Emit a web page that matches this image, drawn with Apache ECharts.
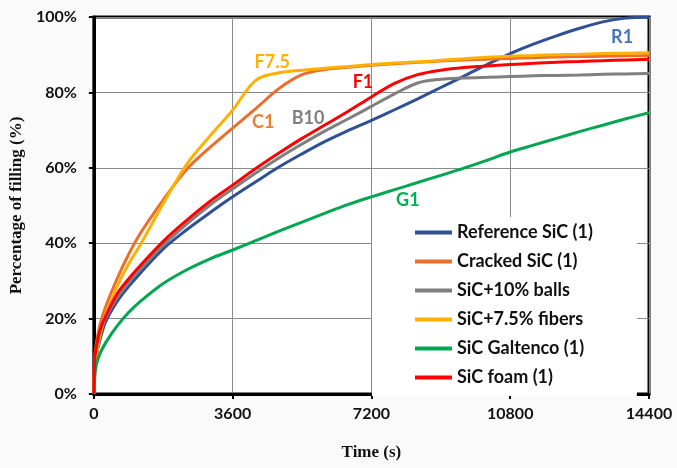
<!DOCTYPE html>
<html>
<head>
<meta charset="utf-8">
<script src="https://cdn.jsdelivr.net/npm/echarts@6/dist/echarts.min.js"></script>
<style>
  html, body { margin: 0; padding: 0; background: #fafafa; }
  #chart { width: 677px; height: 468px; }
</style>
</head>
<body>
<div id="chart"></div>
<script>
// Sampling times (s), shared by all curves
const times = [0, 20, 60, 150, 300, 600, 900, 1200, 1800, 2400, 3000, 3600, 4200, 4800, 5400, 6000, 6600, 7200, 7800, 8400, 9000, 9600, 10200, 10800, 11400, 12000, 12600, 13200, 13800, 14400];

// Percentage of filling (%) for each material
const referenceSiC = [0, 7, 10, 14, 19, 24.5, 28.5, 32, 38.5, 43.5, 48, 52.3, 56.3, 60.2, 63.7, 67.0, 69.9, 72.6, 75.4, 78.3, 81.3, 84.3, 87.4, 90.3, 92.8, 95, 97, 98.7, 99.7, 100];
const crackedSiC = [0, 9, 13, 18, 23, 30.5, 37, 42.5, 51.5, 59.5, 65.3, 70.5, 75.7, 81, 84.7, 86.1, 86.7, 87.2, 87.6, 88, 88.3, 88.6, 88.8, 89, 89.2, 89.4, 89.5, 89.6, 89.7, 89.8];
const sicBalls = [0, 8, 11, 15.5, 20, 25.5, 29.5, 33, 39.5, 45, 50, 54.4, 58.6, 62.6, 66.3, 69.8, 73, 76.3, 79.6, 82.5, 83.5, 83.8, 84, 84.2, 84.4, 84.5, 84.6, 84.8, 84.9, 85];
const sicFibers = [0, 7, 10, 15, 21, 28.5, 34.5, 39.5, 50.5, 60.8, 68.3, 75.3, 83.2, 85.2, 85.9, 86.4, 86.9, 87.4, 87.8, 88.1, 88.5, 88.9, 89.3, 89.6, 89.8, 90, 90.1, 90.3, 90.4, 90.5];
const sicGaltenco = [0, 4, 7.5, 10.5, 13.5, 18, 21.6, 24.5, 29.3, 32.9, 35.8, 38.2, 40.7, 43.2, 45.6, 48, 50.3, 52.3, 54.2, 56.1, 58, 59.9, 62, 64.2, 66, 67.8, 69.6, 71.3, 73, 74.6];
const sicFoam = [0, 9, 12, 16.5, 20.5, 26.5, 30.5, 34, 40.5, 46, 51, 55.4, 59.8, 63.9, 67.8, 71.4, 75, 78.8, 82.4, 84.7, 85.9, 86.6, 87, 87.4, 87.7, 88, 88.2, 88.4, 88.6, 88.8];

const seriesNames = ['Reference SiC (1)', 'Cracked SiC (1)', 'SiC+10% balls', 'SiC+7.5% fibers', 'SiC Galtenco (1)', 'SiC foam (1)'];
const seriesValues = [referenceSiC, crackedSiC, sicBalls, sicFibers, sicGaltenco, sicFoam];
const lineColors = ['#2F4F96', '#EB6E2C', '#7F7F7F', '#FFB000', '#00A650', '#FF0000'];

// Short tags written next to each curve (time, percentage)
const tagNames = ['R1', 'C1', 'B10', 'F7.5', 'G1', 'F1'];
const tagTimes = [13702, 4395, 5558, 4628, 8144, 6980];
const tagValues = [94.7, 72.1, 73.2, 88.1, 51.5, 82.8];
const tagColors = ['#4472C4', '#ED7D31', '#7F7F7F', '#FFB000', '#00B050', '#FF0000'];

// Axis ticks
const timeTicks = { min: 0, max: 14400, step: 3600 };
const percentTicks = { min: 0, max: 100, step: 20 };

const chart = echarts.init(document.getElementById('chart'), null, { renderer: 'canvas' });

const series = seriesNames.map((name, i) => ({
  name: name,
  type: 'line',
  data: times.map((t, k) => [t, seriesValues[i][k]]),
  smooth: 0.35,
  showSymbol: false,
  symbol: 'none',
  lineStyle: { color: lineColors[i], width: 3 },
  itemStyle: { color: lineColors[i] },
  z: 2 + i,
  markPoint: {
    symbol: 'circle',
    symbolSize: 0,
    silent: true,
    label: {
      show: true,
      position: 'inside',
      formatter: '{b}',
      color: tagColors[i],
      fontFamily: 'Lato',
      fontWeight: 'bold',
      fontSize: 18
    },
    data: [{ name: tagNames[i], coord: [tagTimes[i], tagValues[i]] }]
  }
}));

chart.setOption({
  backgroundColor: '#fafafa',
  animation: false,
  grid: {
    left: 92, right: 28, top: 17, bottom: 74,
    show: true,
    backgroundColor: '#ffffff',
    borderColor: '#000',
    borderWidth: 3
  },
  legend: {
    orient: 'vertical',
    left: 372,
    top: 217,
    padding: [5, 44, 8, 43],
    backgroundColor: '#ffffff',
    itemGap: 8,
    itemWidth: 37,
    itemHeight: 4,
    icon: 'rect',
    data: seriesNames,
    textStyle: {
      color: '#111',
      fontFamily: 'Lato',
      fontWeight: 'bold',
      fontSize: 18,
      lineHeight: 21
    }
  },
  xAxis: {
    type: 'value',
    min: timeTicks.min,
    max: timeTicks.max,
    interval: timeTicks.step,
    name: 'Time (s)',
    nameLocation: 'middle',
    nameGap: 50,
    nameTextStyle: {
      fontFamily: 'Liberation Serif',
      fontWeight: 'bold',
      fontSize: 17,
      color: '#111'
    },
    axisLine: { show: true, lineStyle: { color: '#000', width: 3 } },
    axisTick: { show: true, inside: false, length: 5, lineStyle: { color: '#000', width: 2 } },
    axisLabel: {
      margin: 12,
      color: '#111',
      fontFamily: 'Lato',
      fontWeight: 'bold',
      fontSize: 16,
      formatter: v => String(v)
    },
    splitLine: { show: true, lineStyle: { color: '#8a8a8a', width: 1 } }
  },
  yAxis: {
    type: 'value',
    min: percentTicks.min,
    max: percentTicks.max,
    interval: percentTicks.step,
    name: 'Percentage of filling (%)',
    nameLocation: 'middle',
    nameGap: 66,
    nameTextStyle: {
      fontFamily: 'Liberation Serif',
      fontWeight: 'bold',
      fontSize: 17,
      color: '#111'
    },
    axisLine: { show: true, lineStyle: { color: '#000', width: 3 } },
    axisTick: { show: true, inside: false, length: 5, lineStyle: { color: '#000', width: 2 } },
    axisLabel: {
      margin: 17,
      color: '#111',
      fontFamily: 'Lato',
      fontWeight: 'bold',
      fontSize: 16,
      formatter: v => v + '%'
    },
    splitLine: { show: true, lineStyle: { color: '#8a8a8a', width: 1 } }
  },
  series: series
});
</script>
</body>
</html>
